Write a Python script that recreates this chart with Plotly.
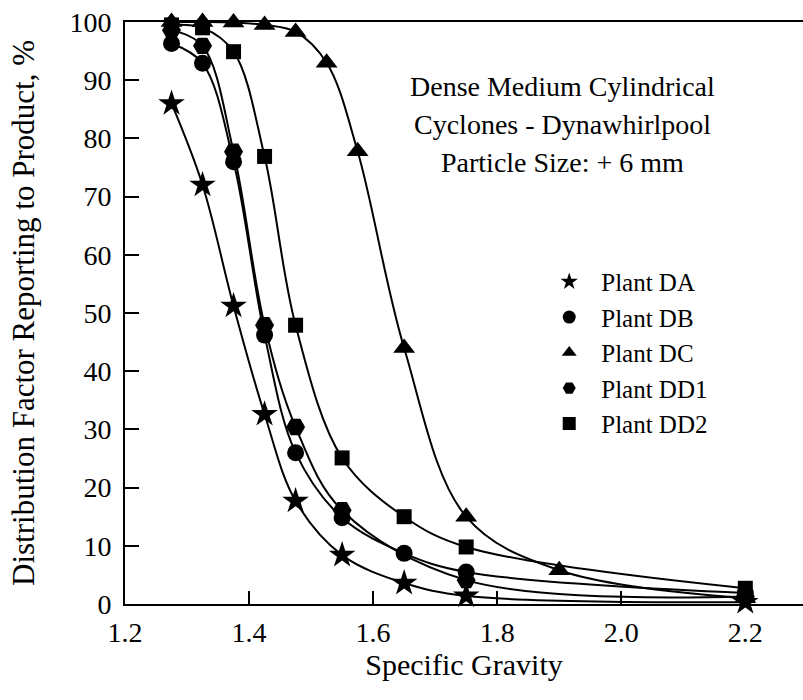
import plotly.graph_objects as go

# Specific gravity fractions (mid-points of the float/sink intervals)
sg_da = [1.275, 1.325, 1.375, 1.425, 1.475, 1.55, 1.65, 1.75, 2.2]
pf_da = [86.0, 72.0, 51.2, 32.6, 17.7, 8.4, 3.6, 1.4, 0.3]

sg_db = [1.275, 1.325, 1.375, 1.425, 1.475, 1.55, 1.65, 1.75, 2.2]
pf_db = [96.3, 92.9, 76.0, 46.2, 26.0, 14.8, 8.7, 5.5, 1.9]

sg_dc = [1.275, 1.325, 1.375, 1.425, 1.475, 1.525, 1.575, 1.65, 1.75, 1.9, 2.2]
pf_dc = [100.0, 100.0, 99.9, 99.5, 98.3, 93.0, 77.8, 44.0, 15.0, 5.8, 1.0]

sg_dd1 = [1.275, 1.325, 1.375, 1.425, 1.475, 1.55, 1.75, 2.2]
pf_dd1 = [98.6, 95.9, 77.7, 47.9, 30.4, 16.1, 4.1, 1.3]

sg_dd2 = [1.275, 1.325, 1.375, 1.425, 1.475, 1.55, 1.65, 1.75, 2.2]
pf_dd2 = [99.5, 99.0, 94.9, 76.9, 47.9, 25.1, 15.0, 9.8, 2.7]

plants = ["Plant DA", "Plant DB", "Plant DC", "Plant DD1", "Plant DD2"]
symbols = ["star", "circle", "triangle-up", "hexagon2", "square"]
sizes = [20, 17, 19, 19, 15]

x_ticks = [1.2, 1.4, 1.6, 1.8, 2.0, 2.2]
x_tick_text = ["1.2", "1.4", "1.6", "1.8", "2.0", "2.2"]
y_ticks = list(range(0, 101, 10))

notes = ["Dense Medium Cylindrical", "Cyclones - Dynawhirlpool", "Particle Size: + 6 mm"]

series = [(sg_da, pf_da), (sg_db, pf_db), (sg_dc, pf_dc), (sg_dd1, pf_dd1), (sg_dd2, pf_dd2)]

FONT = "Liberation Serif, Times New Roman, serif"

fig = go.Figure()

# smooth partition curves with their data points
for (sg, pf), name, sym, sz in zip(series, plants, symbols, sizes):
    fig.add_trace(go.Scatter(
        x=sg, y=pf, mode="lines+markers", name=name, showlegend=False,
        line=dict(color="black", width=2, shape="spline", smoothing=1.0),
        marker=dict(symbol=sym, size=sz, color="black"),
        cliponaxis=False,
    ))

# legend entries: marker only
for name, sym in zip(plants, symbols):
    fig.add_trace(go.Scatter(
        x=[None], y=[None], mode="markers", name=name,
        marker=dict(symbol=sym, size=13, color="black"),
    ))

for i, txt in enumerate(notes):
    fig.add_annotation(
        text=txt, xref="paper", yref="paper",
        x=0.645, y=0.889 - i * 0.065, xanchor="center", yanchor="middle",
        showarrow=False, font=dict(family=FONT, size=28, color="black"),
    )

fig.update_layout(
    width=803, height=700,
    margin=dict(l=125, r=0, t=22, b=96),
    paper_bgcolor="white", plot_bgcolor="white",
    font=dict(family=FONT, color="black"),
    legend=dict(
        x=0.608, y=0.593, xanchor="left", yanchor="top",
        font=dict(family=FONT, size=25, color="black"),
        bgcolor="rgba(0,0,0,0)", tracegroupgap=0, itemwidth=54,
    ),
    showlegend=True,
)

fig.update_xaxes(
    range=[1.2, 2.293], tickvals=x_ticks, ticktext=x_tick_text,
    ticks="inside", ticklen=13, tickwidth=1.5, tickcolor="black",
    showline=True, linecolor="black", linewidth=2, mirror=True,
    showgrid=False, zeroline=False, ticklabelstandoff=2,
    tickfont=dict(family=FONT, size=28, color="black"),
    title=dict(text="Specific Gravity", font=dict(family=FONT, size=30, color="black"), standoff=0),
)
fig.update_yaxes(
    range=[0, 100], tickvals=y_ticks,
    ticks="inside", ticklen=14, tickwidth=1.5, tickcolor="black",
    showline=True, linecolor="black", linewidth=2, mirror=False,
    showgrid=False, zeroline=False, ticklabelstandoff=6,
    tickfont=dict(family=FONT, size=28, color="black"),
    title=dict(text="Distribution Factor Reporting to Product, %",
               font=dict(family=FONT, size=31, color="black"), standoff=26),
)

fig.write_html("out.html")
